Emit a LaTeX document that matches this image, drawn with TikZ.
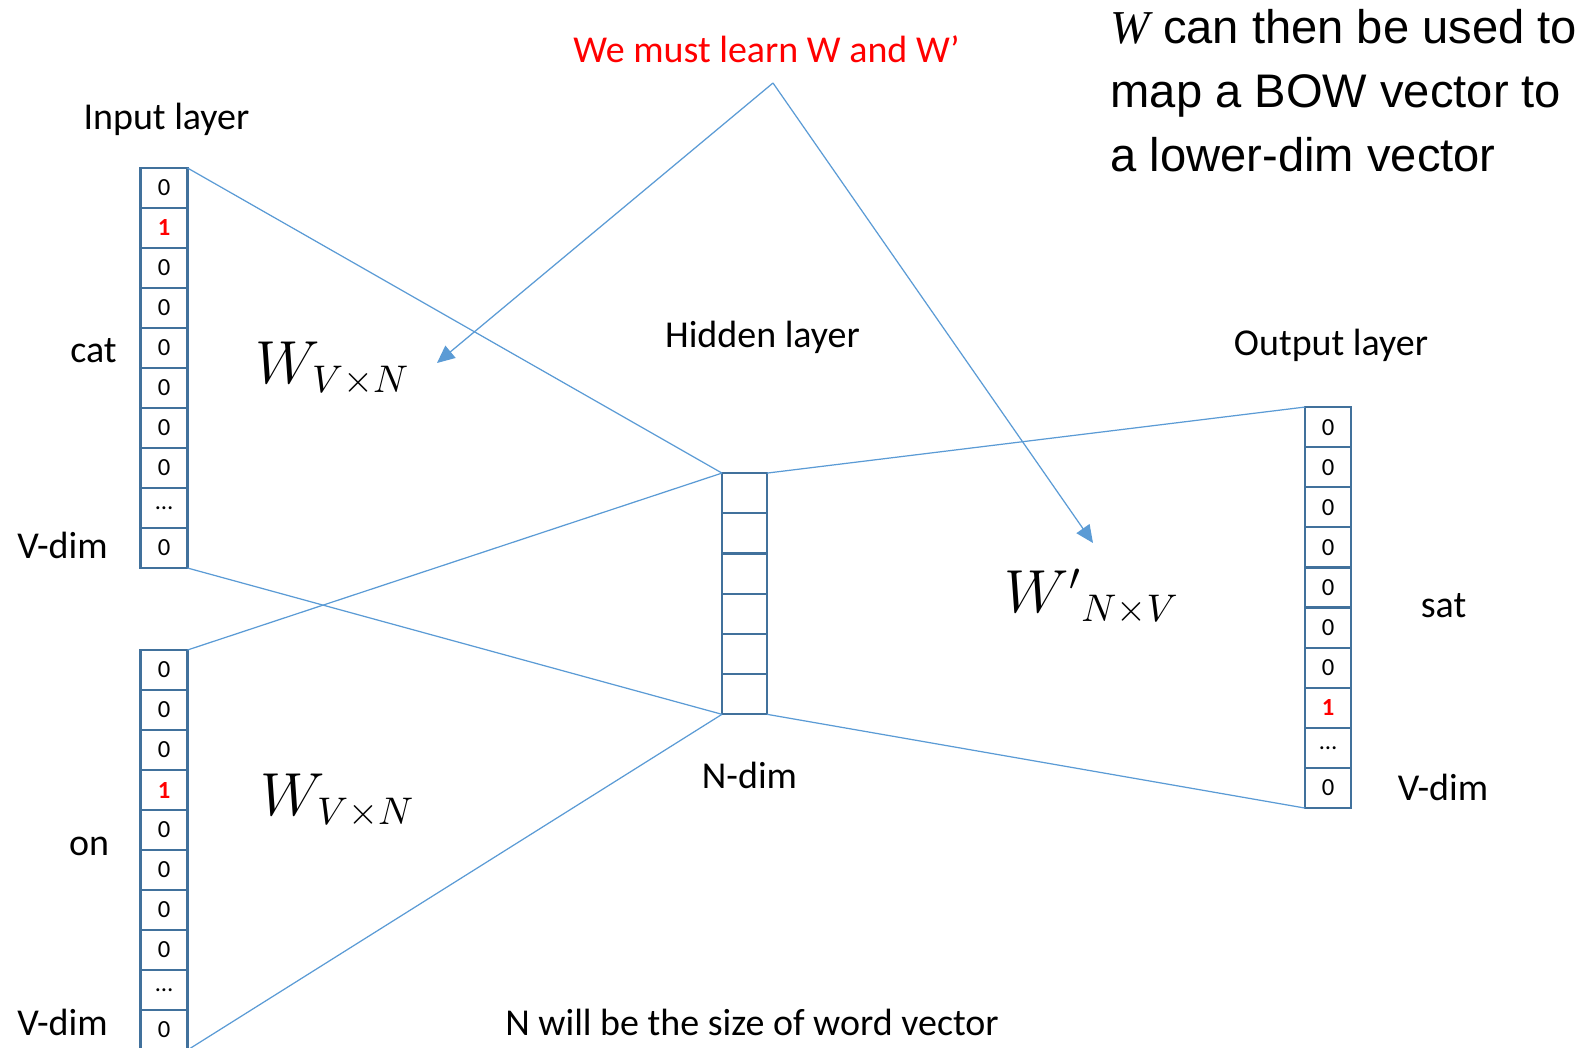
\documentclass[tikz,border=0pt]{standalone}
\usepackage{fontspec}
\setmainfont{Carlito}
\newfontfamily\arialfont{Liberation Sans}
\newfontfamily\timesfont{Liberation Serif}
\usepackage{tikz}
\usetikzlibrary{positioning,arrows.meta}
\usepackage{xcolor}
\definecolor{linea}{HTML}{5B9BD5}
\definecolor{borde}{HTML}{41719C}
\newcommand{\hot}{\textcolor{red}{\bfseries 1}}

\begin{document}
\begin{tikzpicture}[x=0.01cm, y=-0.01cm,
      cell/.style={draw=borde, line width=0.6pt, minimum width=0.47cm, minimum height=0.4cm,
                   inner sep=0pt, outer sep=0pt, font=\fontsize{7}{8}\selectfont},
      lab/.style={font=\fontsize{10.8}{12}\selectfont, inner sep=0pt, anchor=base},
      wlab/.style={font=\fontsize{16.3}{20}\selectfont, inner sep=0pt},
      con/.style={linea, line width=0.35pt},
      f/.style={con, -{Triangle[length=5pt,width=4.5pt]}}]
    \useasboundingbox (0,0) rectangle (1593,1048);

    % the three vectors and the hidden layer
    \foreach \v [count=\i] in {0,\hot,0,0,0,0,0,0,\dots,0}
      \node[cell] (cat\i) at (164,148+40*\i) {\v};
    \foreach \v [count=\i] in {0,0,0,\hot,0,0,0,0,\dots,0}
      \node[cell] (on\i) at (164,630+40*\i) {\v};
    \foreach \i in {1,...,6}
      \node[cell, minimum width=0.45cm, minimum height=0.402cm] (hid\i) at (744.5,453+40.2*\i) {};
    \foreach \v [count=\i] in {0,0,0,0,0,0,0,\hot,\dots,0}
      \node[cell, minimum width=0.46cm, minimum height=0.401cm] (sat\i) at (1328,387+40.1*\i) {\v};

    \draw[con] (cat1.north east) -- (hid1.north west);
    \draw[con] (cat10.south east) -- (hid6.south west);
    \draw[con] (on1.north east) -- (hid1.north west);
    \draw[con] (on10.south east) -- (hid6.south west);
    \draw[con] (hid1.north east) -- (sat1.north west);
    \draw[con] (hid6.south east) -- (sat10.south west);

    % labels
    \node[lab] (inlab) at (166.5,129) {Input layer};
    \node[lab] (catlab) at (93.5,362) {cat};
    \node[lab] (vdima) at (62.5,558) {V-dim};
    \node[lab] (onlab) at (89,855) {on};
    \node[lab] (vdimb) at (62.5,1035) {V-dim};
    \node[lab] (hidlab) at (762.5,347) {Hidden layer};
    \node[lab] (ndim) at (749.5,788) {N-dim};
    \node[lab] (outlab) at (1331,355) {Output layer};
    \node[lab] (satlab) at (1443.5,617) {sat};
    \node[lab] (vdimc) at (1443,800) {V-dim};
    \node[lab] (nsize) at (752,1035) {N will be the size of word vector};
    \node[lab, text=red] (learn) at (766.5,62) {We must learn W and W’};

    \node[wlab] (wa) at (333,369) {$W_{V\times N}$};
    \node[wlab] (wb) at (338,801) {$W_{V\times N}$};
    \node[wlab] (wo) at (1092,597) {${W'}_{N\times V}$};

    \node[anchor=north west, inner sep=0pt, align=left,
          font=\arialfont\fontsize{13.4}{18.2}\selectfont] (note) at (1110,9)
      {{\timesfont\itshape W} can then be used to\\ map a BOW vector to\\ a lower-dim vector};

    % arrows from the red remark
    \coordinate (apex) at (773,83);
    \coordinate (tipa) at (437,363);
    \coordinate (tipb) at (1093,543);
    \draw[f] (apex) -- (tipa);
    \draw[f] (apex) -- (tipb);
  \end{tikzpicture}
\end{document}
